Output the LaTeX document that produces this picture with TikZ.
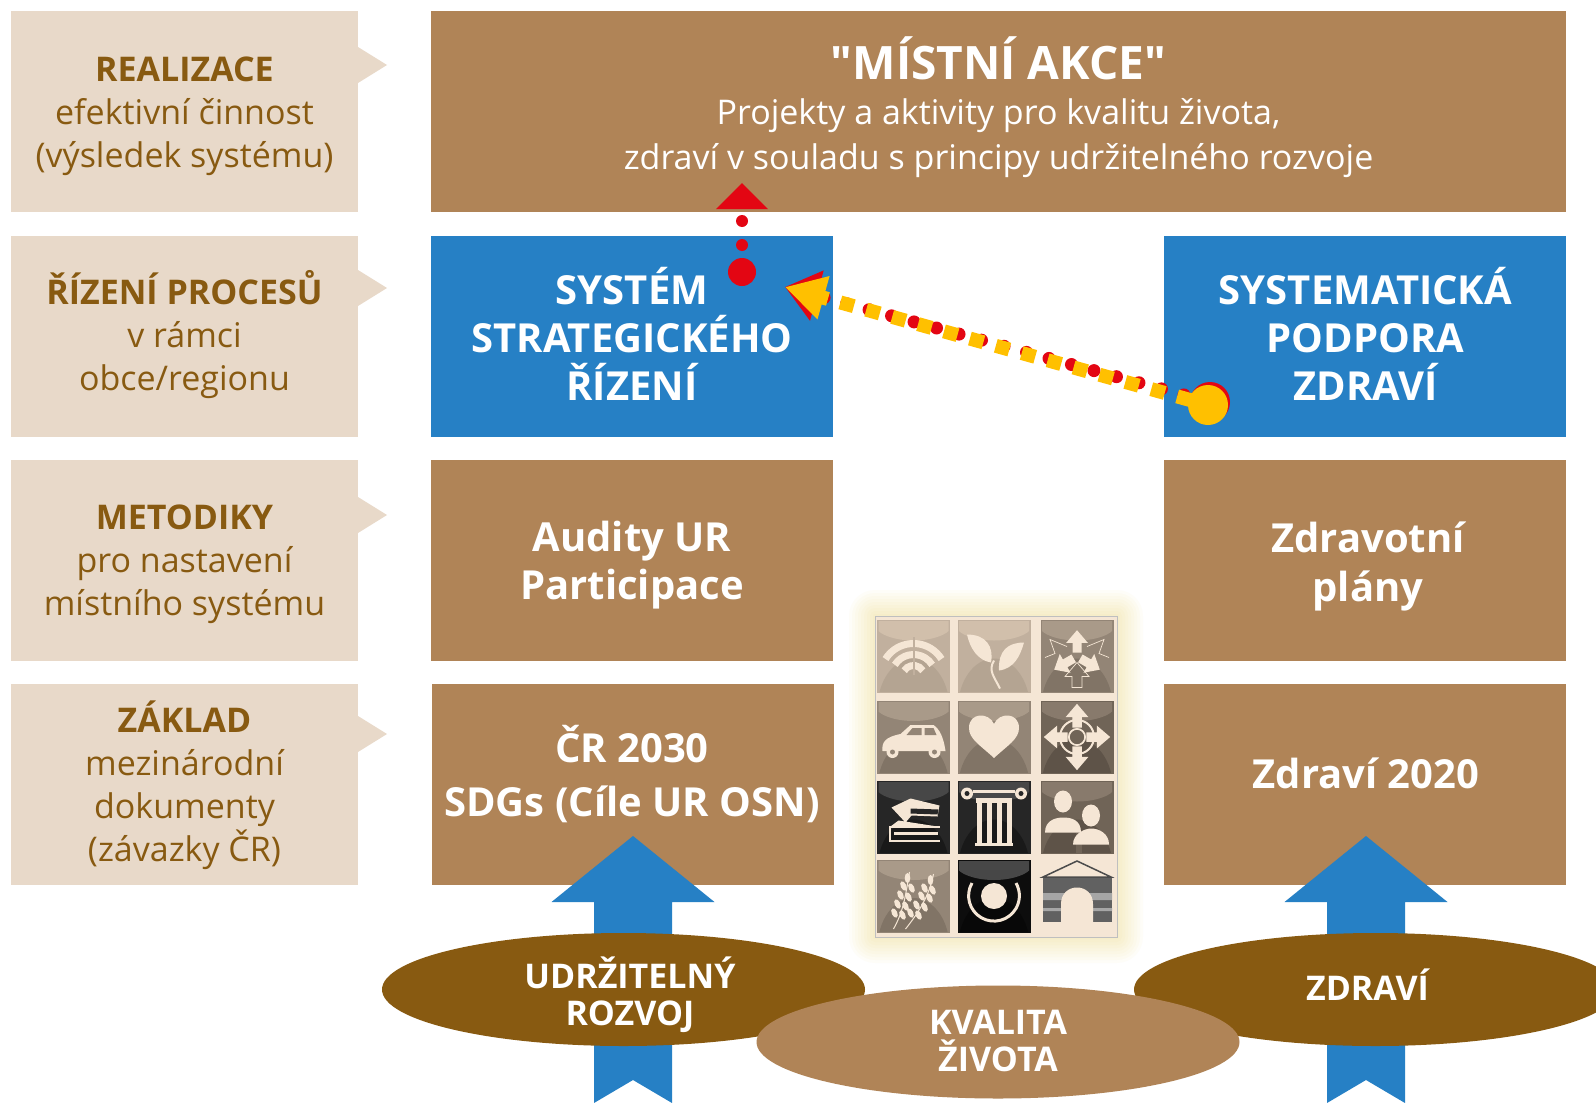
\documentclass[tikz,border=0pt]{standalone}
\usepackage{fontspec}
\setmainfont{Open Sans}
\newfontfamily\straightfont{Open Sans}
\usetikzlibrary{arrows.meta,shapes.geometric}
\definecolor{boxbrown}{HTML}{B08457}
\definecolor{darkbrown}{HTML}{885A11}
\definecolor{palebrown}{HTML}{E8D9C9}
\definecolor{boxblue}{HTML}{2680C5}
\definecolor{redline}{HTML}{E30613}
\definecolor{yellowline}{HTML}{FFC000}
\definecolor{cream}{HTML}{F5E6D5}
\tikzset{
  sidebox/.style={fill=palebrown,minimum width=347pt,minimum height=201pt,inner sep=0pt},
  sidetext/.style={text=darkbrown,align=center,font=\fontsize{34}{43}\selectfont,inner sep=0pt},
  mainbox/.style={fill=boxbrown,minimum width=402pt,minimum height=201pt,inner sep=0pt},
  bluebox/.style={mainbox,fill=boxblue},
  boxtext/.style={text=white,align=center,font=\fontsize{40}{48}\selectfont\bfseries,inner sep=0pt},
  blob/.style={ellipse,fill=darkbrown,minimum width=483pt,minimum height=113pt,inner sep=0pt},
  blobtext/.style={text=white,align=center,font=\fontsize{34}{37}\selectfont\bfseries,inner sep=0pt},
  bluearrow/.style={fill=boxblue},
  ink/.style={fill=cream},
  dot/.style={circle,inner sep=0pt,minimum size=#1},
  arrowhead/.pic={\fill[ink] (0,-17) -- (12,-3) -- (5,-3) -- (5,8) -- (-5,8) -- (-5,-3) -- (-12,-3) -- cycle;}
}
\newcommand{\icontile}[6]{%% x, y, base, top band, arch, contents
  \begin{scope}[shift={(#1,#2)}]
    \fill[#3] (-36.5,-36.5) rectangle (36.5,36.5);
    \begin{scope}
      \clip (-35,-35) rectangle (35,35);
      \fill[#4] (0,-34) ellipse (40 and 18);
      \fill[#5] (0,52) ellipse (36 and 50);
    \end{scope}
    #6
  \end{scope}}
\begin{document}
\begin{tikzpicture}[x=1pt,y=-1pt]
  \clip (0,0) rectangle (1596,1103);
  \fill[white] (0,0) rectangle (1596,1103);
  %% side column
  \foreach \tipy in {65,288,515,734}{
    \fill[palebrown] (358,\tipy-18) -- (387,\tipy) -- (358,\tipy+18) -- cycle;
  }
  \node[sidebox] (realizace) at (184.5,111.5) {};
  \node[sidetext] (realizacetext) at (184.5,116) {\textbf{REALIZACE}\\efektivní činnost\\(výsledek systému)};
  \node[sidebox] (rizeni) at (184.5,336) {};
  \node[sidetext] (rizenitext) at (184.5,335) {\textbf{ŘÍZENÍ PROCESŮ}\\v rámci\\obce/regionu};
  \node[sidebox] (metodiky) at (184.5,560) {};
  \node[sidetext] (metodikytext) at (184.5,564) {\textbf{METODIKY}\\pro nastavení\\místního systému};
  \node[sidebox] (zaklad) at (184.5,784.5) {};
  \node[sidetext] (zakladtext) at (184.5,785) {\textbf{ZÁKLAD}\\mezinárodní\\dokumenty\\(závazky ČR)};
  %% main boxes
  \node[mainbox,minimum width=1135pt] (akce) at (998.5,111.5) {};
  \node[boxtext,font=\fontsize{34}{45}\selectfont] (akcetext) at (998.5,107) {{\fontsize{46}{50}\selectfont\bfseries\straightfont "MÍSTNÍ AKCE"}\\
    Projekty a aktivity pro kvalitu života,\\
    zdraví v souladu s principy udržitelného rozvoje};
  \node[bluebox] (system) at (632,336) {};
  \node[boxtext] (systemtext) at (632,334) {SYSTÉM\\STRATEGICKÉHO\\ŘÍZENÍ};
  \node[bluebox] (podpora) at (1365,336) {};
  \node[boxtext] (podporatext) at (1365.5,334) {SYSTEMATICKÁ\\PODPORA\\ZDRAVÍ};
  \node[mainbox] (audity) at (632,560) {};
  \node[boxtext] (audityext) at (632,565) {Audity UR\\Participace};
  \node[mainbox] (plany) at (1365,560) {};
  \node[boxtext,font=\fontsize{40}{49}\selectfont\bfseries] (planytext) at (1368,566) {Zdravotní\\plány};
  \node[mainbox] (cr) at (633,784.5) {};
  \node[boxtext,font=\fontsize{40}{54}\selectfont\bfseries] (crtext) at (632,774) {ČR 2030\\SDGs (Cíle UR OSN)};
  \node[mainbox] (zdravi) at (1365,784.5) {};
  \node[boxtext] (zdravitext) at (1366,773) {Zdraví 2020};
  %% icon panel
  \foreach \g in {26,23,...,2}
    \fill[yellow!55!brown,opacity=.03,rounded corners=\g pt] (875-\g,616-\g) rectangle (1117+\g,937+\g);
  \fill[cream] (875,616) rectangle (1117,937);
  \draw[black!25,line width=.6pt] (875,616) rectangle (1117,937);
  \icontile{913.5}{656.5}{black!21!cream!90!brown}{black!14!cream!90!brown}{black!27!cream!90!brown}{
    \foreach \r in {11,22,33}
      \draw[cream,line width=7pt] ({\r*cos(212)},{20+\r*sin(212)}) arc (212:328:\r);
    \fill[black!21!cream!90!brown] (-1,-20) rectangle (1,18);
  }
  \icontile{994}{656.5}{black!21!cream!90!brown}{black!14!cream!90!brown}{black!27!cream!90!brown}{
    \fill[ink] (-27,-22) .. controls (-8,-22) and (0,-10) .. (-3,6) .. controls (-16,4) and (-24,-8) .. (-27,-22);
    \fill[ink] (30,-14) .. controls (14,-14) and (4,-6) .. (5,14) .. controls (20,12) and (26,0) .. (30,-14);
    \draw[cream,line width=2pt] (0,4) .. controls (-6,14) and (0,20) .. (6,32);
  }
  \icontile{1077}{656.5}{black!42!cream!90!brown}{black!32!cream!90!brown}{black!50!cream!90!brown}{
    \foreach \a in {0,120,240}
      \pic[rotate=\a,shift={(0,-11)},scale=.9] {arrowhead};
    \draw[cream,line width=.7pt] (0,6) -- (12,20) -- (5,20) -- (5,31) -- (-5,31) -- (-5,20) -- (-12,20) -- cycle;
    \draw[cream,line width=.7pt] (-10,-10) -- (-27,-17) -- (-22,-3) -- (-32,1);
    \draw[cream,line width=.7pt] (10,-10) -- (27,-17) -- (22,-3) -- (32,1);
  }
  \icontile{913.5}{737}{black!42!cream!90!brown}{black!32!cream!90!brown}{black!50!cream!90!brown}{
    \fill[ink] (-31,14) .. controls (-32,5) and (-28,0) .. (-13,-3) -- (-3,-12) -- (20,-12) .. controls (26,-8) and (30,0) .. (32,14) -- cycle;
    \fill[black!42!cream!90!brown] (-7,-2) -- (-1,-9) -- (8,-9) -- (8,-2) -- cycle (11,-9) -- (20,-9) -- (23,-2) -- (11,-2) -- cycle;
    \fill[ink] (-21,15) circle (6) (21,15) circle (6);
    \fill[black!42!cream!90!brown] (-21,15) circle (2.5) (21,15) circle (2.5);
  }
  \icontile{994}{737}{black!42!cream!90!brown}{black!32!cream!90!brown}{black!50!cream!90!brown}{
    \fill[ink] (0,21) .. controls (-14,8) and (-25,2) .. (-25,-9) .. controls (-25,-25) and (-5,-25) .. (0,-13) .. controls (5,-25) and (25,-25) .. (25,-9) .. controls (25,2) and (14,8) .. (0,21);
  }
  \icontile{1077}{737}{black!58!cream!90!brown}{black!47!cream!90!brown}{black!66!cream!90!brown}{
    \foreach \a in {0,90,180,270}
      \pic[rotate=\a,shift={(0,-17)},scale=.95] {arrowhead};
    \draw[cream,line width=2pt] (0,0) circle (17) (0,0) circle (8);
    \fill[black!58!cream!90!brown] (0,0) circle (7);
  }
  \icontile{913.5}{817.5}{black!85}{black!72}{black!90}{
    \draw[cream,line width=2pt] (26,23) -- (-24,23) -- (-24,9) -- (26,9);
    \fill[ink] (-23,9) -- (-15,3) -- (24,9) -- cycle (-22,-10) -- (-3,-19) -- (26,-12) -- (24,-1) -- (-2,-2) -- (-8,5) -- cycle;
    \fill[ink] (-20,14) rectangle (24,17);
    \fill[black!85] (-3,-9) -- (25,-8) -- (24,-3) -- (-3,-4) -- cycle;
  }
  \icontile{994}{817.5}{black!85}{black!72}{black!90}{
    \draw[cream,line width=2.5pt] (-21,-26) -- (21,-26);
    \fill[ink] (-27,-24) circle (6) (27,-24) circle (6);
    \fill[black!85] (-27,-24) circle (2.5) (27,-24) circle (2.5);
    \fill[ink] (-18,-20) rectangle (18,-15);
    \foreach \cx in {-15,-5,5,15}
      \fill[ink] (\cx-2.5,-15) rectangle (\cx+2.5,27);
    \fill[ink] (-19,25) rectangle (19,28);
  }
  \icontile{1077}{817.5}{black!58!cream!90!brown}{black!47!cream!90!brown}{black!66!cream!90!brown}{
    \fill[ink] (-14,-16) ellipse (9 and 11);
    \fill[ink] (-32,15) .. controls (-32,2) and (-20,0) .. (-14,0) .. controls (-6,0) and (4,2) .. (4,15) -- cycle;
    \fill[black!58!cream!90!brown] (-1,15) rectangle (5,36);
    \fill[ink] (14,-2) ellipse (9 and 11);
    \fill[ink] (-4,27) .. controls (-4,16) and (8,11) .. (14,11) .. controls (22,11) and (32,16) .. (32,27) -- cycle;
  }
  \icontile{913.5}{896}{black!42!cream!90!brown}{black!32!cream!90!brown}{black!50!cream!90!brown}{
    \draw[cream,line width=1pt] (-20,33) .. controls (-10,15) and (-8,0) .. (-4,-24);
    \draw[cream,line width=1pt] (-8,33) .. controls (4,18) and (16,0) .. (20,-22);
    \foreach \px/\py in {-6/-10,-9/-1,-12/8,-15/17,15/-8,12/0,7/9,1/17}{
      \fill[ink,rotate around={25:(\px-4,\py)}] (\px-4,\py) ellipse (2.8 and 5);
      \fill[ink,rotate around={25:(\px+4,\py+2)}] (\px+4,\py+2) ellipse (2.8 and 5);
    }
    \fill[ink] (-6,-18) ellipse (2.8 and 5) (17,-16) ellipse (2.8 and 5);
  }
  \icontile{994}{896}{black!95}{black!72}{black!97}{
    \fill[ink] (0,0) circle (13);
    \draw[cream,line width=3pt] (-22,-13) arc (210:-30:25.4);
  }
  %% arch building
  \begin{scope}[shift={(1077,896)}]
    \fill[black!62] (-34,-19) rectangle (35,26);
    \fill[black!35] (-34,-3) rectangle (35,4) (-34,12) rectangle (35,15);
    \draw[black!70,line width=1.5pt,fill=cream] (-34,-19) -- (0,-35) -- (34,-19) -- cycle;
    \fill[ink] (-16,28) -- (-16,8) .. controls (-16,-14) and (16,-14) .. (16,8) -- (16,28) -- cycle;
  \end{scope}
  %% blue arrows
  \foreach \ax in {633,1366}{
    \fill[bluearrow] (\ax,836) -- (\ax+81.5,902) -- (\ax+39,902) -- (\ax+39,1103) -- (\ax,1080) -- (\ax-39,1103) -- (\ax-39,902) -- (\ax-81.5,902) -- cycle;
  }
  %% ellipses
  \node[blob] (udrzitelny) at (623.5,989.5) {};
  \node[blobtext] (udrzitelnytext) at (630,994.5) {UDRŽITELNÝ\\ROZVOJ};
  \node[blob] (zdr) at (1375.5,989.5) {};
  \node[blobtext] (zdrtext) at (1367.5,985) {ZDRAVÍ};
  \node[blob,fill=boxbrown] (kvalita) at (998,1042) {};
  \node[blobtext] (kvalitatext) at (998,1041) {KVALITA\\ŽIVOTA};
  %% red connectors
  \node[dot=40pt,fill=redline] (redstart) at (1210,402) {};
  \node[dot=28pt,fill=redline] (redup) at (742,272) {};
  \coordinate (uptip) at (742,183);
  \coordinate (redtip) at (785,287);
  \draw[redline,line width=12pt,dash pattern=on 0pt off 24pt,dash phase=21pt,line cap=round,-{Triangle[length=26pt,width=50pt]}] (redup.center) -- (uptip);
  \draw[redline,line width=13pt,dash pattern=on 0pt off 23.3pt,dash phase=19.6pt,line cap=round,-{Triangle[length=33pt,width=50pt]}] (redstart.center) -- (redtip);
  %% yellow connector
  \node[dot=40pt,fill=yellowline] (yellowstart) at (1208,405) {};
  \draw[yellowline,line width=14pt,dash pattern=on 14pt off 12.9pt,dash phase=8.9pt,-{Triangle[length=40pt,width=42pt]}] (yellowstart.center) -- (redtip);
\end{tikzpicture}
\end{document}
